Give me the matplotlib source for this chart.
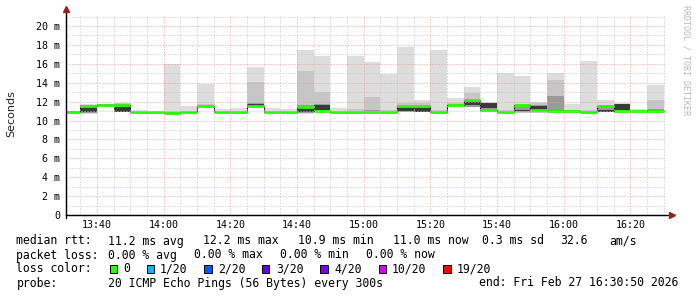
import matplotlib
matplotlib.use("Agg")
import matplotlib.pyplot as plt
from matplotlib.patches import Rectangle
from matplotlib.ticker import FixedLocator, FuncFormatter
import numpy as np

# 5-minute bins starting 13:30, values in ms
bin_start = "13:30"
step_min = 5
median = [10.95, 11.55, 11.67, 11.62, 10.87, 10.90, 10.80, 10.90, 11.53, 10.90,
          10.87, 11.57, 10.90, 10.90, 11.46, 11.02, 10.87, 10.87, 10.90, 10.87,
          11.57, 11.57, 10.92, 11.68, 12.17, 11.10, 10.95, 11.65, 11.12, 11.04,
          11.00, 10.93, 11.57, 11.04, 11.00, 11.04]
rtt_min = [10.90, 10.70, 11.45, 10.85, 10.80, 10.85, 10.75, 10.85, 11.45, 10.85,
           10.80, 11.45, 10.85, 10.85, 10.70, 10.90, 10.82, 10.82, 10.82, 10.82,
           10.90, 10.85, 10.85, 11.50, 11.40, 10.85, 10.85, 10.80, 10.80, 10.90,
           10.82, 10.82, 10.85, 10.90, 10.85, 10.95]
rtt_max = [11.00, 11.70, 11.75, 11.85, 11.10, 10.95, 15.95, 11.55, 13.86, 11.20,
           11.35, 15.70, 11.30, 11.18, 17.46, 16.86, 11.30, 16.83, 16.18, 14.93,
           17.80, 12.17, 17.46, 12.35, 13.58, 12.00, 15.06, 14.72, 12.00, 14.98,
           11.70, 16.30, 12.17, 11.85, 11.22, 13.76]
band2_lo = [10.92, 10.75, 11.50, 10.88, 10.82, 10.87, 10.78, 10.87, 11.48, 10.87,
            10.83, 11.48, 10.87, 10.87, 10.75, 10.92, 10.84, 10.84, 10.84, 10.84,
            10.92, 10.88, 10.87, 11.55, 11.45, 10.88, 10.87, 10.83, 10.83, 10.93,
            10.84, 10.84, 10.88, 10.93, 10.87, 10.98]
band2_hi = [10.98, 11.65, 11.72, 11.80, 10.95, 10.92, 11.00, 11.00, 11.70, 10.95,
            10.95, 14.05, 10.95, 10.95, 15.24, 13.05, 10.95, 11.20, 12.50, 11.10,
            11.80, 11.90, 11.10, 11.80, 12.94, 11.90, 11.10, 11.50, 11.80, 14.29,
            10.95, 11.10, 11.50, 11.70, 10.95, 12.20]
band3_lo = [10.93, 10.78, 11.55, 10.88, 10.84, 10.87, 10.78, 10.87, 11.48, 10.87,
            10.83, 11.48, 10.87, 10.87, 10.80, 10.95, 10.84, 10.84, 10.85, 10.84,
            10.95, 10.90, 10.87, 11.55, 11.46, 10.88, 10.87, 10.85, 10.85, 10.98,
            10.85, 10.85, 10.90, 10.95, 10.87, 10.98]
band3_hi = [10.97, 11.60, 11.70, 11.75, 10.90, 10.92, 10.85, 10.93, 11.58, 10.93,
            10.90, 11.80, 10.93, 10.93, 11.60, 11.70, 10.90, 10.95, 11.10, 10.92,
            11.50, 11.50, 10.95, 11.70, 12.15, 11.85, 10.95, 11.45, 11.60, 12.60,
            11.10, 11.05, 11.46, 11.75, 10.95, 11.20]
core_lo = [10.94, 10.90, 11.60, 10.93, 10.85, 10.88, 10.79, 10.88, 11.50, 10.88,
           10.85, 11.50, 10.88, 10.88, 10.93, 11.10, 10.85, 10.85, 10.86, 10.85,
           11.00, 10.95, 10.88, 11.60, 11.64, 11.29, 10.88, 11.00, 11.10, 11.00,
           10.87, 10.86, 10.95, 11.10, 10.88, 11.00]
core_hi = [10.96, 11.45, 11.66, 11.45, 10.88, 10.91, 10.82, 10.91, 11.55, 10.91,
           10.88, 11.70, 10.91, 10.91, 11.35, 11.64, 10.88, 10.90, 10.95, 10.90,
           11.40, 11.45, 10.92, 11.68, 12.06, 11.80, 10.92, 11.10, 11.53, 11.10,
           10.95, 10.95, 11.10, 11.70, 10.92, 11.08]

y_ticks = [0, 2, 4, 6, 8, 10, 12, 14, 16, 18, 20]
x_tick_labels = ["13:40", "14:00", "14:20", "14:40", "15:00", "15:20", "15:40", "16:00", "16:20"]

loss_labels = ["0", "1/20", "2/20", "3/20", "4/20", "10/20", "19/20"]
loss_colors = ["#26ff00", "#00b8ff", "#0059ff", "#5e00ff", "#7e00ff", "#dd00ff", "#ff0000"]


def hm(s):
    h, m = s.split(":")
    return int(h) * 60 + int(m)


W, H = 697, 297
fig = plt.figure(figsize=(W / 100, H / 100), dpi=100)
ax = fig.add_axes([66.4 / W, 82 / H, 600 / W, 201 / H])

n = len(median)
starts = hm(bin_start) + step_min * np.arange(n)
t0 = hm("16:30") + 50 / 60 - 180
t1 = hm("16:30") + 50 / 60

layers = [(rtt_min, rtt_max, "#dddddd"),
          (band2_lo, band2_hi, "#c6c6c6"),
          (band3_lo, band3_hi, "#9a9a9a"),
          (core_lo, core_hi, "#3a3a3a")]
for z, (lo, hi, c) in enumerate(layers):
    lo = np.array(lo)
    hi = np.array(hi)
    ax.bar(starts, hi - lo, bottom=lo, width=step_min, align="edge",
           color=c, linewidth=0, zorder=2 + z)

# median: black steps with green level segments
xs = np.append(starts, starts[-1] + step_min)
ys = np.append(median, median[-1])
ax.plot(xs, ys, drawstyle="steps-post", color="black", lw=0.8, zorder=7)
ax.hlines(median, starts, starts + step_min, color=loss_colors[0], lw=2.0,
          capstyle="butt", zorder=8)

ax.set_xlim(t0, t1)
ax.set_ylim(0, 21.27)

# grid (dotted, drawn over the smoke)
dot = (0, (1, 2))
gkw = dict(lw=0.72, ls=dot)
for m in np.arange(hm("13:35"), t1, 5):
    if m % 20 != 0:
        ax.axvline(m, color="#c4c4c4", zorder=10, **gkw)
for v in np.arange(1, 22, 1):
    if v % 2 != 0:
        ax.axhline(v, color="#c4c4c4", zorder=10, **gkw)
for s in x_tick_labels:
    ax.axvline(hm(s), color="#e6a0a0", zorder=11, **gkw)
for v in y_ticks[1:]:
    ax.axhline(v, color="#e6a0a0", zorder=11, **gkw)

ax.xaxis.set_major_locator(FixedLocator([hm(s) for s in x_tick_labels]))
ax.xaxis.set_major_formatter(FuncFormatter(lambda v, p: "%02d:%02d" % (int(round(v)) // 60, int(round(v)) % 60)))
ax.yaxis.set_major_locator(FixedLocator(y_ticks))
ax.yaxis.set_major_formatter(FuncFormatter(lambda v, p: "0" if v == 0 else "%d m" % v))
ax.tick_params(length=0, labelsize=7.2, colors="black")
ax.tick_params(axis="y", pad=4.6)
ax.tick_params(axis="x", pad=3.4)
for lab in ax.get_xticklabels() + ax.get_yticklabels():
    lab.set_family("DejaVu Sans Mono")

for side in ["top", "right"]:
    ax.spines[side].set_visible(False)
for side in ["left", "bottom"]:
    ax.spines[side].set_color("black")
    ax.spines[side].set_linewidth(0.9)
    ax.spines[side].set_zorder(12)

# axis arrows
ax.plot([0], [1.025], marker="^", color="#9b1c1c", ms=4.5, transform=ax.transAxes,
        clip_on=False, zorder=13)
ax.plot([1.01], [0], marker=">", color="#9b1c1c", ms=4.5, transform=ax.transAxes,
        clip_on=False, zorder=13)
ax.plot([0, 1.005], [0, 0], color="black", lw=0.9, transform=ax.transAxes, clip_on=False, zorder=12)
ax.plot([0, 0], [-0.015, 1.01], color="black", lw=0.9, transform=ax.transAxes, clip_on=False, zorder=12)

fig.text(11 / W, 1 - 113.5 / H, "Seconds", rotation=90, ha="center", va="center",
         fontsize=8, color="#222222")
fig.text(686 / W, 1 - 5 / H, "RRDTOOL / TOBI OETIKER", rotation=270, ha="center",
         va="top", fontsize=6.0, family="DejaVu Sans Mono", color="#b8b8b8")

mono = dict(family="DejaVu Sans Mono", fontsize=8.3, va="center", color="black")


def put(x, y, s):
    fig.text(x / W, 1 - y / H, s, **mono)


put(16.5, 241, "median rtt:")
put(108.5, 241, "11.2 ms avg")
put(203, 241, "12.2 ms max")
put(298, 241, "10.9 ms min")
put(393, 241, "11.0 ms now")
put(482, 241, "0.3 ms sd")
put(560, 241, "32.6")
put(609, 241, "am/s")

put(16.5, 255, "packet loss:")
put(108.5, 255, "0.00 % avg")
put(194, 255, "0.00 % max")
put(280, 255, "0.00 % min")
put(366, 255, "0.00 % now")

put(16.5, 269, "loss color:")
box_x = [109.5, 146.5, 204, 261.5, 320, 378.5, 443]
text_x = [123.5, 160, 218, 276, 334, 392, 457]
for bx, tx, lab, c in zip(box_x, text_x, loss_labels, loss_colors):
    fig.patches.append(Rectangle((bx / W, 1 - 273 / H), 7.5 / W, 8 / H,
                                 transform=fig.transFigure, facecolor=c,
                                 edgecolor="black", lw=0.7))
    put(tx, 269, lab)

put(16.5, 283, "probe:")
put(108.5, 283, "20 ICMP Echo Pings (56 Bytes) every 300s")
put(479, 283, "end: Fri Feb 27 16:30:50 2026")

fig.savefig("out.png", dpi=100, facecolor="white")
